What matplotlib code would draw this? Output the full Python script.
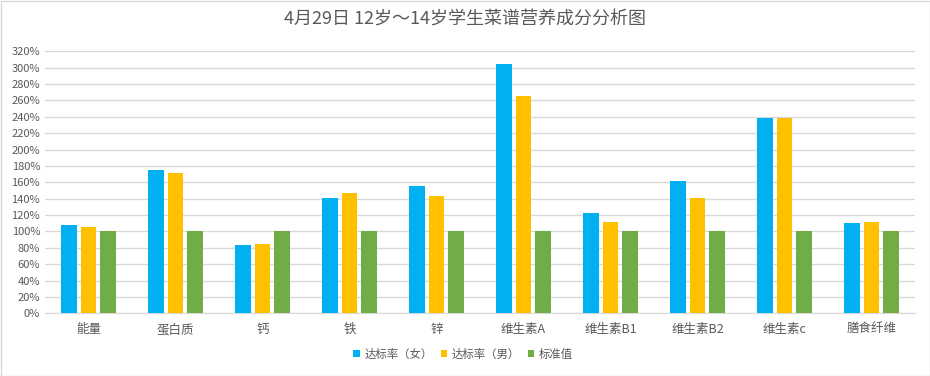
import matplotlib
matplotlib.use("Agg")
import matplotlib.pyplot as plt
import numpy as np
from matplotlib.ticker import FuncFormatter, MultipleLocator
from matplotlib.patches import Rectangle

plt.rcParams['font.family'] = ['Noto Sans CJK SC', 'DejaVu Sans']

categories = ["能量", "蛋白质", "钙", "铁", "锌", "维生素A", "维生素B1", "维生素B2", "维生素c", "膳食纤维"]
female = [108, 175, 84, 141, 155, 304, 122, 162, 238, 110]
male = [106, 171, 85, 147, 143, 266, 111, 141, 238, 112]
standard = [100, 100, 100, 100, 100, 100, 100, 100, 100, 100]
series_names = ["达标率（女）", "达标率（男）", "标准值"]
colors = ["#00B0F0", "#FFC000", "#70AD47"]

fig = plt.figure(figsize=(9.3, 3.76), dpi=100)
ax = fig.add_axes([45/930, 1-313.3/376, 870/930, 262/376])

x = np.arange(len(categories))
w = 0.175
off = 0.224
for i, (vals, c, name) in enumerate(zip([female, male, standard], colors, series_names)):
    ax.bar(x + (i-1)*off, vals, width=w, color=c, label=name, zorder=3)

ax.set_xlim(-0.5, len(categories)-0.5)
ax.set_ylim(0, 320)
ax.yaxis.set_major_locator(MultipleLocator(20))
ax.yaxis.set_major_formatter(FuncFormatter(lambda v, p: f"{int(v)}%"))
ax.grid(axis='y', color='#D9D9D9', linewidth=1, zorder=0)
for s in ['left', 'right', 'top']:
    ax.spines[s].set_visible(False)
ax.spines['bottom'].set_color('#D9D9D9')
ax.tick_params(axis='both', length=0, colors='#595959', labelsize=8)
ax.tick_params(axis='x', labelsize=9, pad=7)
ax.set_xticks(x)
ax.set_xticklabels(categories)

fig.suptitle("4月29日 12岁～14岁学生菜谱营养成分分析图", y=1-20/376, va='center',
             fontsize=13, color='#595959')

leg = fig.legend(loc='center', bbox_to_anchor=(463/930, 1-354/376), ncol=3, frameon=False,
                 fontsize=8.2, handlelength=0.55, handleheight=0.55, handletextpad=0.4,
                 columnspacing=0.7, labelcolor='#595959')

fig.patches.append(Rectangle((0.5/930, 0.5/376), 1-1/930, 1-1/376, transform=fig.transFigure,
                             fill=False, edgecolor='#D9D9D9', linewidth=1))

fig.savefig("out.png", dpi=100, facecolor='white')
